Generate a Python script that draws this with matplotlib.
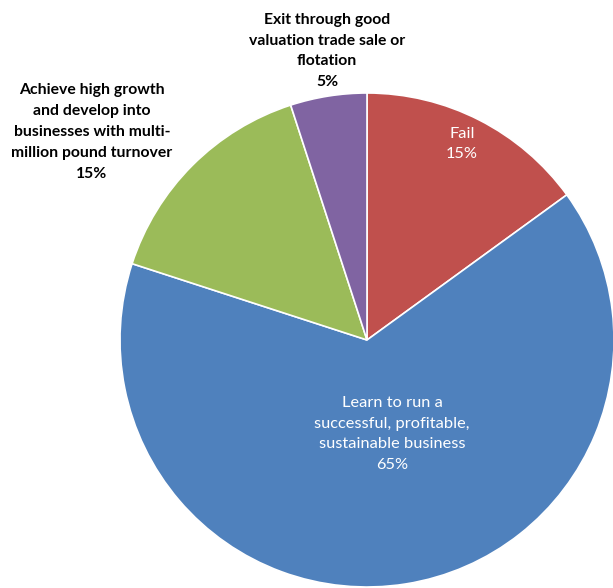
import matplotlib
matplotlib.use("Agg")
import matplotlib.pyplot as plt

labels = ["Fail", "Learn to run a\nsuccessful, profitable,\nsustainable business",
          "Achieve high growth\nand develop into\nbusinesses with multi-\nmillion pound turnover",
          "Exit through good\nvaluation trade sale or\nflotation"]
shares = [15, 65, 15, 5]
colors = ["#C0504D", "#4F81BD", "#9BBB59", "#8064A2"]
text_colors = ["white", "white", "black", "black"]
# label centres, in pixel-like data units (origin bottom-left)
label_pos = [(462, 444), (392, 154), (92, 456), (327, 537)]

plt.rcParams["font.family"] = ["Lato", "DejaVu Sans"]

fig = plt.figure(figsize=(6.13, 5.88), dpi=100)
ax = fig.add_axes([0, 0, 1, 1])

ax.pie(shares, colors=colors, startangle=90, counterclock=False,
       center=(367, 248), radius=247, frame=True,
       wedgeprops=dict(edgecolor="white", linewidth=1.2))
ax.set_xlim(0, 613)
ax.set_ylim(0, 588)
ax.set_aspect("equal")
ax.axis("off")

for lab, val, tc, (x, y) in zip(labels, shares, text_colors, label_pos):
    bold = tc == "black"
    ax.text(x, y, f"{lab}\n{val}%", color=tc, ha="center", va="center",
            fontsize=11.3 if bold else 11.8,
            fontweight="bold" if bold else "normal",
            linespacing=1.62)

fig.savefig("out.png", dpi=100)
